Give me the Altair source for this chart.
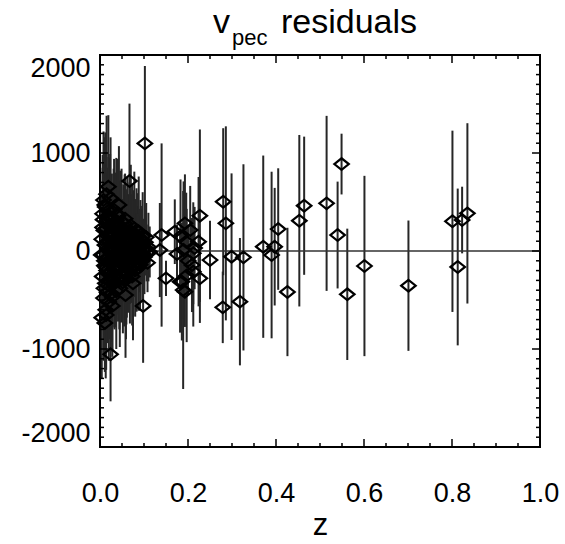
import altair as alt
import pandas as pd

# ---- data: (z, v_pec residual, error) ----
z_vals = [
    0.004, 0.005, 0.006, 0.007, 0.008, 0.008, 0.009, 0.010, 0.011, 0.012,
    0.012, 0.013, 0.014, 0.015, 0.016, 0.016, 0.017, 0.018, 0.019, 0.020,
    0.021, 0.021, 0.022, 0.023, 0.024, 0.025, 0.026, 0.026, 0.027, 0.028,
    0.029, 0.030, 0.031, 0.031, 0.032, 0.033, 0.034, 0.035, 0.036, 0.037,
    0.037, 0.038, 0.039, 0.040, 0.041, 0.041, 0.042, 0.043, 0.044, 0.045,
    0.046, 0.046, 0.047, 0.048, 0.049, 0.050, 0.051, 0.052, 0.053, 0.053,
    0.054, 0.055, 0.056, 0.057, 0.058, 0.059, 0.060, 0.061, 0.062, 0.063,
    0.064, 0.065, 0.066, 0.067, 0.068, 0.069, 0.070, 0.071, 0.072, 0.073,
    0.074, 0.075, 0.076, 0.077, 0.078, 0.079, 0.080, 0.081, 0.082, 0.083,
    0.084, 0.085, 0.086, 0.087, 0.088, 0.089, 0.090, 0.091, 0.092, 0.093,
    0.094, 0.096, 0.097, 0.099, 0.101, 0.103, 0.106, 0.110, 0.113,
    0.003, 0.006, 0.009, 0.011, 0.014, 0.017, 0.019, 0.022, 0.024, 0.027,
    0.029, 0.032, 0.034, 0.036, 0.039, 0.042, 0.044, 0.047, 0.049, 0.052,
    0.055, 0.057, 0.060, 0.063, 0.066, 0.069, 0.072, 0.076, 0.079, 0.083,
    0.087, 0.091, 0.095, 0.100, 0.105, 0.108, 0.004, 0.015, 0.028, 0.043,
    0.010, 0.013, 0.018, 0.020, 0.023, 0.026, 0.030, 0.033, 0.035, 0.038,
    0.040, 0.045, 0.048, 0.051, 0.054, 0.056, 0.059, 0.062, 0.065, 0.068,
    0.071, 0.074, 0.077, 0.080, 0.085, 0.089, 0.093, 0.098, 0.104, 0.015,
    0.007, 0.025, 0.035, 0.046, 0.061, 0.073, 0.082, 0.020, 0.031, 0.050,
    0.058, 0.075, 0.011,
    0.102, 0.067, 0.019, 0.024, 0.014, 0.098,
    0.140, 0.136, 0.150, 0.170, 0.189, 0.186, 0.193, 0.205, 0.227, 0.224,
    0.196, 0.212, 0.209, 0.212, 0.227, 0.190, 0.182, 0.193, 0.175, 0.200,
    0.215, 0.183, 0.197, 0.250, 0.280, 0.286, 0.279, 0.299, 0.326, 0.318,
    0.371, 0.390, 0.397, 0.405, 0.426, 0.453, 0.464, 0.515, 0.549, 0.540,
    0.562, 0.601, 0.701, 0.801, 0.813, 0.823, 0.835,
]
v_vals = [
    120, -260, 380, -40, 520, -480, 210, -150, 60, -330,
    450, -600, 300, -80, 160, -420, 20, -230, 410, -520,
    90, 250, -120, -360, 540, -20, 180, -280, 340, -470,
    70, -180, 260, -60, 420, -330, 130, -240, 20, 310,
    -410, -100, 200, -20, 360, -290, 90, -170, 260, -380,
    40, 150, -70, -250, 300, -10, 110, -320, 210, -130,
    60, -210, 280, -40, 170, -290, 80, -150, 230, 0,
    -230, 130, -80, 190, -180, 40, 260, -110, 110, -260,
    -30, 180, -140, 60, 230, -60, -200, 120, 10, -120,
    160, -30, 80, -170, 200, -80, 40, -140, 120, -40,
    70, -100, 150, 10, -60, 90, -20, 40, -10,
    -40, 240, -380, 470, -170, 350, -60, 180, -440, 30,
    -300, 110, 260, -150, 380, -60, -300, 210, -120, 40,
    -40, 330, -240, 150, 40, -120, 170, 30, -90, 210,
    -20, 90, -60, 20, 140, -120, -680, 580, -560, 470,
    -100, 230, 100, -300, 350, -130, 150, -50, 280, -200,
    80, -160, 170, -60, 120, -100, 190, -40, 100, -120,
    50, -70, 130, -20, 60, -50, 110, -30, 30, -200,
    320, 240, -200, 260, -220, 190, -150, 0, -90, 60,
    -450, -330, -734,
    1098, 714, 656, -1054, -653, -561,
    163, 10, -279, 197, -398, -313, 282, 214, 360, 95,
    95, -23, -143, -211, -279, 10, -313, -415, -30, -100,
    30, 150, -250, -92, 503, 282, -575, -58, -65, -517,
    44, -41, 44, 224, -418, 309, 462, 486, 887, 163,
    -442, -153, -354, 303, -163, 316, 384,
]
err_vals = [
    450, 520, 600, 380, 700, 640, 420, 500, 350, 560,
    760, 700, 480, 300, 620, 520, 280, 460, 550, 600,
    390, 700, 430, 540, 620, 330, 500, 650, 450, 560,
    300, 480, 580, 260, 520, 470, 360, 540, 410, 640,
    590, 330, 450, 280, 520, 430, 380, 520, 460, 600,
    300, 560, 410, 480, 540, 350, 420, 520, 470, 390,
    310, 560, 500, 330, 440, 610, 360, 470, 530, 280,
    400, 450, 380, 510, 560, 300, 620, 420, 470, 500,
    330, 440, 520, 360, 580, 300, 470, 410, 350, 500,
    430, 290, 380, 440, 560, 340, 320, 470, 400, 280,
    360, 420, 450, 300, 380, 330, 290, 350, 260,
    520, 610, 470, 690, 540, 500, 380, 600, 560, 410,
    480, 520, 450, 400, 560, 350, 500, 440, 390, 330,
    370, 460, 510, 420, 300, 350, 400, 320, 380, 430,
    300, 340, 280, 310, 350, 300, 620, 800, 520, 600,
    420, 560, 380, 500, 640, 400, 470, 330, 520, 450,
    360, 430, 480, 300, 390, 350, 440, 280, 370, 420,
    300, 330, 390, 270, 320, 300, 350, 260, 280, 500,
    600, 520, 480, 560, 460, 500, 410, 380, 360, 330,
    640, 580, 500,
    790, 790, 730, 480, 560, 580,
    935, 480, 180, 330, 1010, 600, 500, 450, 880, 660,
    500, 520, 480, 560, 455, 700, 520, 360, 300, 350,
    420, 580, 680, 400, 750, 990, 365, 850, 950, 650,
    930, 850, 600, 620, 655, 875, 705, 893, 310, 545,
    670, 920, 665, 925, 800, 340, 920,
]

x_major = [0.0, 0.2, 0.4, 0.6, 0.8, 1.0]
y_major = [-2000, -1000, 0, 1000, 2000]
x_minor = [i / 100 for i in range(5, 100, 5) if i % 20 != 0]
y_minor = [v for v in range(-1900, 2000, 100) if v % 1000 != 0]

df = pd.DataFrame({"z": z_vals, "v": v_vals, "err": err_vals})
df["lo"] = df["v"] - df["err"]
df["hi"] = df["v"] + df["err"]

W, H = 440, 392
FONT = "Liberation Sans"

xs = alt.Scale(domain=[0, 1], nice=False, zero=False)
ys = alt.Scale(domain=[-2000, 2000], nice=False, zero=False)

xaxis = alt.Axis(values=x_major, format=".1f", labelFontSize=27, labelFont=FONT,
                 labelColor="black", labelPadding=33, ticks=False, domain=False,
                 grid=False, labelFlush=False, titleFontSize=31, titleFont=FONT,
                 titleFontWeight="normal", titleColor="black", titlePadding=4)
yaxis = alt.Axis(values=y_major, labelExpr="datum.value + ''", labelFontSize=27,
                 labelFont=FONT, labelColor="black", labelPadding=10, ticks=False,
                 domain=False, grid=False, labelFlush=True)


def X(field):
    return alt.X(field, scale=xs, axis=xaxis, title="z")


def Y(field):
    return alt.Y(field, scale=ys, axis=yaxis, title="")


bars = alt.Chart(df).mark_rule(color="#262626", strokeWidth=2).encode(
    x=X("z:Q"), y=Y("lo:Q"), y2="hi:Q",
)

zero = alt.Chart(pd.DataFrame({"v": [0]})).mark_rule(color="#333333", strokeWidth=1.5).encode(
    y=Y("v:Q")
)

diamond = "M-1,0L0,-0.8L1,0L0,0.8Z"
points = alt.Chart(df).mark_point(shape=diamond, size=210, filled=False, stroke="black",
                                  strokeWidth=2.2, opacity=1).encode(
    x=X("z:Q"), y=Y("v:Q"),
)

dxmaj = pd.DataFrame({"z": x_major})
dxmin = pd.DataFrame({"z": x_minor})
dymaj = pd.DataFrame({"v": y_major})
dymin = pd.DataFrame({"v": y_minor})


def xticks(d, length):
    b = alt.Chart(d).mark_rule(color="black", strokeWidth=1.5).encode(
        x=X("z:Q"), y=alt.value(H), y2=alt.value(H - length))
    t = alt.Chart(d).mark_rule(color="black", strokeWidth=1.5).encode(
        x=X("z:Q"), y=alt.value(0), y2=alt.value(length))
    return [b, t]


def yticks(d, length):
    l = alt.Chart(d).mark_rule(color="black", strokeWidth=1.5).encode(
        y=Y("v:Q"), x=alt.value(0), x2=alt.value(length))
    r = alt.Chart(d).mark_rule(color="black", strokeWidth=1.5).encode(
        y=Y("v:Q"), x=alt.value(W), x2=alt.value(W - length))
    return [l, r]


tick_layers = xticks(dxmaj, 8) + xticks(dxmin, 4) + yticks(dymaj, 8) + yticks(dymin, 4)

title_v = alt.Chart(pd.DataFrame({"t": ["v"]})).mark_text(
    align="left", baseline="alphabetic", fontSize=34, font=FONT, color="black").encode(
    text="t:N", x=alt.value(113), y=alt.value(-22))
title_sub = alt.Chart(pd.DataFrame({"t": ["pec"]})).mark_text(
    align="left", baseline="alphabetic", fontSize=22, font=FONT, color="black").encode(
    text="t:N", x=alt.value(132), y=alt.value(-10))
title_main = alt.Chart(pd.DataFrame({"t": ["residuals"]})).mark_text(
    align="left", baseline="alphabetic", fontSize=34, font=FONT, color="black").encode(
    text="t:N", x=alt.value(181), y=alt.value(-22))

chart = alt.layer(bars, zero, points, *tick_layers, title_v, title_sub, title_main).properties(
    width=W, height=H,
    padding={"left": 100, "top": 55, "right": 25, "bottom": 97},
    autosize="none",
    background="white",
).configure_view(stroke="black", strokeWidth=2)

chart.save("out.html", embed_options={"renderer": "svg", "actions": False})
